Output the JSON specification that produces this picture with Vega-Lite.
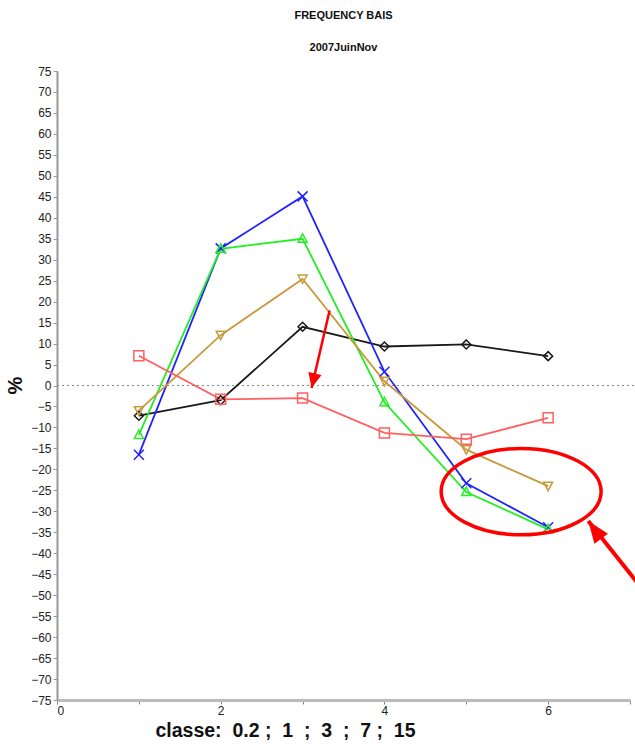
{
  "$schema": "https://vega.github.io/schema/vega-lite/v6.json",
  "width": 573,
  "height": 629,
  "autosize": "none",
  "padding": {"left": 57, "top": 71, "right": 5, "bottom": 44},
  "background": "white",
  "config": {"view": {"stroke": null}, "font": "Liberation Sans"},
  "title": {
    "text": "FREQUENCY BAIS",
    "subtitle": "2007JuinNov",
    "anchor": "middle",
    "font": "Liberation Sans",
    "fontSize": 11,
    "fontWeight": "bold",
    "color": "#111",
    "subtitleFont": "Liberation Sans",
    "subtitleFontSize": 11,
    "subtitleFontWeight": "bold",
    "subtitleColor": "#111",
    "subtitlePadding": 21,
    "offset": 12
  },
  "datasets": {
    "series": [
      {"classe": 1, "pct": -7.2, "serie": "A"},
      {"classe": 2, "pct": -3.5, "serie": "A"},
      {"classe": 3, "pct": 14.0, "serie": "A"},
      {"classe": 4, "pct": 9.3, "serie": "A"},
      {"classe": 5, "pct": 9.8, "serie": "A"},
      {"classe": 6, "pct": 7.0, "serie": "A"},
      {"classe": 1, "pct": -16.5, "serie": "B"},
      {"classe": 2, "pct": 32.7, "serie": "B"},
      {"classe": 3, "pct": 45.1, "serie": "B"},
      {"classe": 4, "pct": 3.3, "serie": "B"},
      {"classe": 5, "pct": -23.3, "serie": "B"},
      {"classe": 6, "pct": -33.8, "serie": "B"},
      {"classe": 1, "pct": -11.8, "serie": "C"},
      {"classe": 2, "pct": 32.6, "serie": "C"},
      {"classe": 3, "pct": 35.0, "serie": "C"},
      {"classe": 4, "pct": -4.0, "serie": "C"},
      {"classe": 5, "pct": -25.4, "serie": "C"},
      {"classe": 6, "pct": -34.3, "serie": "C"},
      {"classe": 1, "pct": -6.0, "serie": "D"},
      {"classe": 2, "pct": 12.0, "serie": "D"},
      {"classe": 3, "pct": 25.4, "serie": "D"},
      {"classe": 4, "pct": 1.0, "serie": "D"},
      {"classe": 5, "pct": -15.3, "serie": "D"},
      {"classe": 6, "pct": -24.0, "serie": "D"},
      {"classe": 1, "pct": 7.1, "serie": "E"},
      {"classe": 2, "pct": -3.3, "serie": "E"},
      {"classe": 3, "pct": -3.0, "serie": "E"},
      {"classe": 4, "pct": -11.3, "serie": "E"},
      {"classe": 5, "pct": -12.8, "serie": "E"},
      {"classe": 6, "pct": -7.7, "serie": "E"}
    ],
    "zero": [{"classe": 0, "pct": 0, "classe2": 7.2}],
    "ellipse": [{"classe": 5.67, "pct": -25.3}],
    "arrow1": [{"classe": 3.33, "pct": 17.9, "classe2": 3.11, "pct2": -0.6}],
    "arrow2": [{"classe": 7.15, "pct": -48.5, "classe2": 6.49, "pct2": -32.3}]
  },
  "encoding": {
    "x": {
      "field": "classe", "type": "quantitative",
      "scale": {"domain": [0, 7], "nice": false, "zero": false},
      "axis": {
        "values": [0, 1, 2, 3, 4, 5, 6, 7],
        "labelExpr": "datum.value % 2 == 0 ? format(datum.value, 'd') : ''",
        "labelOverlap": false,
        "grid": false,
        "title": "classe:\u00a0 0.2 ;\u00a0 1\u00a0 ;\u00a0 3\u00a0 ;\u00a0 7 ;\u00a0 15",
        "titleFont": "Liberation Sans",
        "titleFontSize": 19.5,
        "titleFontWeight": "bold",
        "titleColor": "#111",
        "titleX": 228,
        "titleY": 36,
        "titleAlign": "center",
        "titleBaseline": "alphabetic",
        "labelFont": "Liberation Sans",
        "labelFontSize": 12,
        "labelColor": "#222",
        "labelPadding": 1,
        "tickSize": 4,
        "tickColor": "#888",
        "domainColor": "#bbbbbb",
        "domainWidth": 3
      }
    },
    "y": {
      "field": "pct", "type": "quantitative",
      "scale": {"domain": [-75, 75], "nice": false},
      "axis": {
        "values": [-75, -70, -65, -60, -55, -50, -45, -40, -35, -30, -25, -20, -15, -10, -5, 0, 5, 10, 15, 20, 25, 30, 35, 40, 45, 50, 55, 60, 65, 70, 75],
        "labelExpr": "format(datum.value, 'd')",
        "labelOverlap": false,
        "labelSeparation": 0,
        "labelFlush": false,
        "grid": false,
        "title": "%",
        "titleFont": "Liberation Sans",
        "titleFontSize": 20,
        "titleFontWeight": "bold",
        "titleColor": "#111",
        "titleAngle": -90,
        "titleX": -42,
        "titleY": 314,
        "titleAlign": "center",
        "titleBaseline": "middle",
        "labelFont": "Liberation Sans",
        "labelFontSize": 12,
        "labelColor": "#222",
        "labelPadding": 2,
        "tickSize": 4,
        "tickColor": "#999",
        "domainColor": "#999999",
        "domainWidth": 2
      }
    }
  },
  "layer": [
    {
      "data": {"name": "zero"},
      "mark": {"type": "rule", "strokeDash": [2, 3], "color": "#8a8a8a", "strokeWidth": 1},
      "encoding": {"x2": {"field": "classe2"}}
    },
    {
      "data": {"name": "series"},
      "mark": {"type": "line"},
      "encoding": {
        "color": {
          "field": "serie", "type": "nominal", "legend": null,
          "scale": {"domain": ["A", "B", "C", "D", "E"], "range": ["#1a1a1a", "#2222ff", "#22ee22", "#c89a3c", "#ff6060"]}
        },
        "strokeWidth": {
          "field": "serie", "type": "nominal", "legend": null,
          "scale": {"domain": ["A", "B", "C", "D", "E"], "range": [1.8, 1.8, 1.8, 1.8, 1.2]}
        }
      }
    },
    {
      "data": {"name": "series"},
      "mark": {"type": "point", "filled": false, "strokeWidth": 1.5, "opacity": 1},
      "encoding": {
        "color": {"field": "serie", "type": "nominal", "legend": null},
        "shape": {
          "field": "serie", "type": "nominal", "legend": null,
          "scale": {"domain": ["A", "B", "C", "D", "E"], "range": ["M0,-0.9L0.9,0L0,0.9L-0.9,0Z", "M-1,-1L1,1M-1,1L1,-1", "M0,-1L0.9,0.7L-0.9,0.7Z", "M0,0.9L0.9,-0.8L-0.9,-0.8Z", "M-1,-1L1,-1L1,1L-1,1Z"]}
        },
        "size": {"value": 100}
      }
    },
    {
      "data": {"name": "ellipse"},
      "mark": {"type": "point", "filled": false, "color": "#ff0000", "strokeWidth": 3.5, "opacity": 1, "shape": "M-1,0A1,0.54 0 1,1 1,0A1,0.54 0 1,1 -1,0Z", "size": 25600}
    },
    {
      "data": {"name": "arrow1"},
      "mark": {"type": "rule", "color": "#ff0000", "strokeWidth": 2.5},
      "encoding": {
        "x2": {"field": "classe2"},
        "y2": {"field": "pct2"}
      }
    },
    {
      "data": {"name": "arrow1"},
      "mark": {"type": "point", "filled": true, "color": "#ff0000", "opacity": 1, "shape": "M0,0L-0.45,-1L0.45,-1Z", "size": 900, "angle": 13},
      "encoding": {
        "x": {"field": "classe2", "type": "quantitative"},
        "y": {"field": "pct2", "type": "quantitative"}
      }
    },
    {
      "data": {"name": "arrow2"},
      "mark": {"type": "rule", "color": "#ff0000", "strokeWidth": 4},
      "encoding": {
        "x2": {"field": "classe2"},
        "y2": {"field": "pct2"}
      }
    },
    {
      "data": {"name": "arrow2"},
      "mark": {"type": "point", "filled": true, "color": "#ff0000", "opacity": 1, "shape": "M0,0L-0.38,1L0.38,1Z", "size": 1936, "angle": -36},
      "encoding": {
        "x": {"field": "classe2", "type": "quantitative"},
        "y": {"field": "pct2", "type": "quantitative"}
      }
    }
  ]
}
